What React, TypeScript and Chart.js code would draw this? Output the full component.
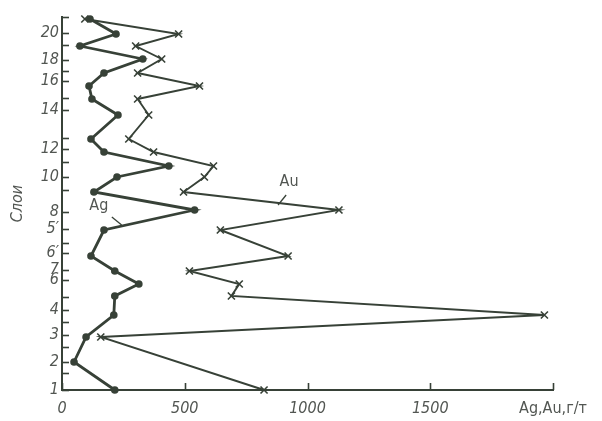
import React, { useEffect, useRef } from "react";
import { Chart, registerables } from "chart.js";

Chart.register(...registerables);

// Stratigraphic position of each sampled layer (section height units, bottom = 0)
const layerHeights = [0, 2.8, 5.3, 7.5, 9.4, 10.6, 11.9, 13.4, 16.0, 18.0, 19.8, 21.3, 22.4, 23.8, 25.1, 27.5, 29.1, 30.4, 31.7, 33.1, 34.4, 35.6, 37.1];
// Ag, g/t
const agValues = [215, 49, 98, 211, 215, 313, 215, 118, 171, 540, 130, 224, 435, 171, 118, 228, 122, 110, 171, 329, 73, 220, 114];
// Au, g/t (no sample at layer 2)
const auValues: (number | null)[] = [823, null, 158, 1965, 690, 722, 519, 921, 645, 1128, 495, 580, 617, 373, 272, 353, 308, 560, 308, 406, 300, 475, 93];

// Y axis ticks (layer marks) and their labels
const yTickHeights = [0, 1.7, 2.8, 4.3, 5.5, 6.8, 8.0, 9.3, 11.0, 12.0, 13.7, 14.7, 16.1, 17.8, 20.0, 21.3, 22.8, 24.1, 25.2, 28.0, 29.2, 30.9, 31.9, 33.0, 34.5, 35.7, 37.3];
const yTickLabels = ["1", "", "2", "", "3", "", "4", "", "6", "7", "6′", "", "5′", "8", "", "10", "", "12", "", "14", "", "16", "", "18", "", "20", ""];
const xTickValues = [0, 500, 1000, 1500, 2000];
const xTickLabels = ["0", "500", "1000", "1500", "Ag,Au,г/т"];

const yTitle = "Слои";
const seriesNames = ["Ag", "Au"];

const INK = "#374137";
const TEXT = "#525652";
const FONT = '"DejaVu Sans Condensed", "DejaVu Sans", sans-serif';

const inwardTicks = {
  id: "inwardTicks",
  afterDraw(chart: any) {
    const { ctx, chartArea, scales } = chart;
    ctx.save();
    ctx.strokeStyle = INK;
    ctx.lineWidth = 1.6;
    const y = scales.y;
    y.ticks.forEach((t: any) => {
      const py = Math.round(y.getPixelForValue(t.value)) + 0.5;
      ctx.beginPath();
      ctx.moveTo(chartArea.left, py);
      ctx.lineTo(chartArea.left + 7, py);
      ctx.stroke();
    });
    const x = scales.x;
    x.ticks.forEach((t: any) => {
      const px = Math.round(x.getPixelForValue(t.value)) + 0.5;
      ctx.beginPath();
      ctx.moveTo(px, chartArea.bottom);
      ctx.lineTo(px, chartArea.bottom - 7);
      ctx.stroke();
    });
    // series name labels with leader lines
    const anchors = [
      { text: seriesNames[0], x: 150, y: 18.4, from: [203, 17.3], to: [243, 16.5] },
      { text: seriesNames[1], x: 925, y: 20.8, from: [913, 19.5], to: [880, 18.5] },
    ];
    ctx.fillStyle = TEXT;
    ctx.font = `16px ${FONT}`;
    ctx.textAlign = "center";
    ctx.textBaseline = "middle";
    ctx.lineWidth = 1.3;
    anchors.forEach((a) => {
      ctx.fillText(a.text, x.getPixelForValue(a.x), y.getPixelForValue(a.y));
      ctx.beginPath();
      ctx.moveTo(x.getPixelForValue(a.from[0]), y.getPixelForValue(a.from[1]));
      ctx.lineTo(x.getPixelForValue(a.to[0]), y.getPixelForValue(a.to[1]));
      ctx.stroke();
    });
    ctx.restore();
  },
};

export default function App() {
  const ref = useRef<HTMLCanvasElement | null>(null);

  useEffect(() => {
    if (!ref.current) return;
    const agData = layerHeights.map((h, i) => ({ x: agValues[i], y: h }));
    const auData = layerHeights
      .map((h, i) => ({ x: auValues[i], y: h }))
      .filter((p) => p.x !== null);

    const chart = new Chart(ref.current, {
      type: "scatter",
      data: {
        datasets: [
          {
            label: seriesNames[1],
            data: auData as any,
            showLine: true,
            borderColor: INK,
            borderWidth: 1.9,
            pointStyle: "crossRot",
            pointRadius: 5,
            pointBorderWidth: 1.6,
            pointBorderColor: INK,
            pointBackgroundColor: INK,
            clip: false as any,
          },
          {
            label: seriesNames[0],
            data: agData,
            showLine: true,
            borderColor: INK,
            borderWidth: 2.8,
            pointStyle: "circle",
            pointRadius: 3.8,
            pointBorderWidth: 0,
            pointBackgroundColor: INK,
            clip: false as any,
          },
        ],
      },
      options: {
        animation: false,
        responsive: false,
        layout: { padding: { top: 17, right: 49, left: 0, bottom: 0 } },
        plugins: { legend: { display: false }, tooltip: { enabled: false } },
        scales: {
          x: {
            type: "linear",
            min: 0,
            max: 2000,
            afterBuildTicks: (s: any) => {
              s.ticks = xTickValues.map((v) => ({ value: v }));
            },
            afterFit: (s: any) => {
              s.height = 31;
            },
            grid: { display: false, drawTicks: false },
            border: { display: true, color: INK, width: 2 },
            ticks: {
              autoSkip: false,
              maxRotation: 0,
              padding: 9,
              color: TEXT,
              callback: (_v: any, i: number) => xTickLabels[i],
              font: (c: any) =>
                c.index === xTickLabels.length - 1
                  ? { family: FONT, size: 16, style: "normal" }
                  : { family: FONT, size: 16, style: "italic" },
            },
          },
          y: {
            type: "linear",
            min: 0,
            max: 37.3,
            afterBuildTicks: (s: any) => {
              s.ticks = yTickHeights.map((v) => ({ value: v }));
            },
            afterFit: (s: any) => {
              s.width = 62;
            },
            grid: { display: false, drawTicks: false },
            border: { display: true, color: INK, width: 2 },
            title: {
              display: true,
              text: yTitle,
              color: TEXT,
              font: { family: FONT, size: 16, style: "italic" },
              padding: { top: 8, bottom: 0 },
            },
            ticks: {
              autoSkip: false,
              padding: 3,
              color: TEXT,
              callback: (_v: any, i: number) => yTickLabels[i],
              font: { family: FONT, size: 16, style: "italic" },
            },
          },
        },
      },
      plugins: [inwardTicks],
    });
    return () => chart.destroy();
  }, []);

  return (
    <div style={{ position: "fixed", left: 0, top: 0, width: 602, height: 421, background: "#fff" }}>
      <canvas ref={ref} width={602} height={421} style={{ display: "block" }} />
    </div>
  );
}
